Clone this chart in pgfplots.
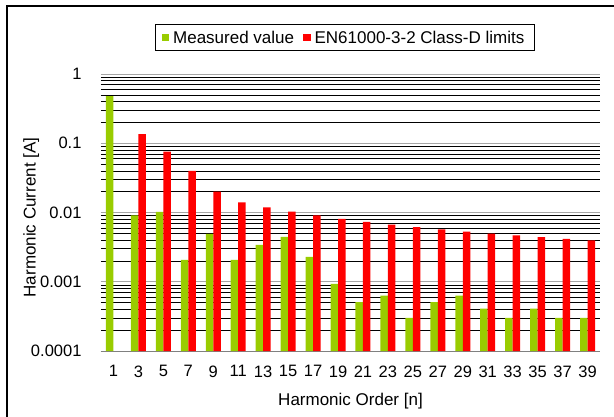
\documentclass[border=0pt]{standalone}
\usepackage{pgfplots}
\pgfplotsset{compat=1.18}
\usepackage{fontspec}
\setmainfont{Liberation Sans}
\definecolor{mgreen}{RGB}{153,204,0}
\definecolor{mred}{RGB}{255,0,0}
\begin{document}
\begin{tikzpicture}[x=1pt,y=1pt]
\useasboundingbox (-101,-65) rectangle (513,351);
\draw[line width=2pt] (-94,-66) -- (-94,345) -- (514,345);
\begin{axis}[
  at={(0pt,0pt)}, anchor=south west,
  scale only axis, width=499pt, height=277pt,
  ymode=log, ymin=1e-4, ymax=1, log origin=infty,
  xmin=-0.5, xmax=19.5,
  ybar=0pt, bar width=7.5pt,
  axis x line*=bottom, axis y line*=left,
  x axis line style={gray, line width=0.8pt, -},
  y axis line style={draw=none},
  tick align=outside, major tick length=0pt, minor tick length=6pt,
  xtick={0,...,19},
  xticklabels={1,3,5,7,9,11,13,15,17,19,21,23,25,27,29,31,33,35,37,39},
  minor xtick={-0.5,0.5,...,19.5},
  minor x tick style={gray!80!black, line width=0.8pt},
  minor y tick style={draw=none},
  ytick style={draw=none}, xtick style={draw=none},
  ytick={0.0001,0.001,0.01,0.1,1},
  yticklabels={0.0001,0.001,0.01,0.1,1},
  ymajorgrids, yminorgrids,
  major grid style={gray!70, line width=0.9pt},
  minor grid style={black, line width=0.6pt},
  /pgf/number format/assume math mode=true,
  ticklabel style={font=\fontsize{16.5}{19}\selectfont},
  xticklabel style={yshift=-11pt},
  yticklabel style={xshift=-16pt},
  xlabel={Harmonic Order [n]},
  ylabel={Harmonic Current [A]},
  label style={font=\fontsize{17}{20}\selectfont},
  xlabel style={at={(axis description cs:0.5,-0.18)}, anchor=center},
  ylabel style={at={(axis description cs:-0.140,0.482)}, anchor=center},
  legend columns=2,
  legend style={at={(axis description cs:0.489,1.131)}, anchor=center,
    draw=black, line width=0.8pt, font=\fontsize{17}{20}\selectfont,
    inner xsep=6pt, inner ysep=4pt,
    nodes={inner xsep=4pt},
    /tikz/every even column/.append style={column sep=5pt}},
  legend image code/.code={\fill[#1] (0pt,-3.75pt) rectangle (7.5pt,3.75pt);},
]
\addplot[fill=mgreen, draw=none] coordinates {
(0,0.48) (1,0.0091) (2,0.0102) (3,0.00207) (4,0.00492) (5,0.00207)
(6,0.0034) (7,0.00446) (8,0.00229) (9,0.00093) (10,0.00051) (11,0.00063)
(12,0.0003) (13,0.00051) (14,0.00063) (15,0.00041) (16,0.0003) (17,0.00041)
(18,0.0003) (19,0.0003)};
\addlegendentry{Measured value}
\addplot[fill=mred, draw=none] coordinates {
(1,0.136) (2,0.076) (3,0.040) (4,0.020) (5,0.014) (6,0.01185)
(7,0.01027) (8,0.00906) (9,0.0081) (10,0.00733) (11,0.0067) (12,0.00616)
(13,0.0057) (14,0.00531) (15,0.00497) (16,0.00467) (17,0.0044)
(18,0.00416) (19,0.00395)};
\addlegendentry{EN61000-3-2 Class-D limits}
\end{axis}
\end{tikzpicture}
\end{document}
